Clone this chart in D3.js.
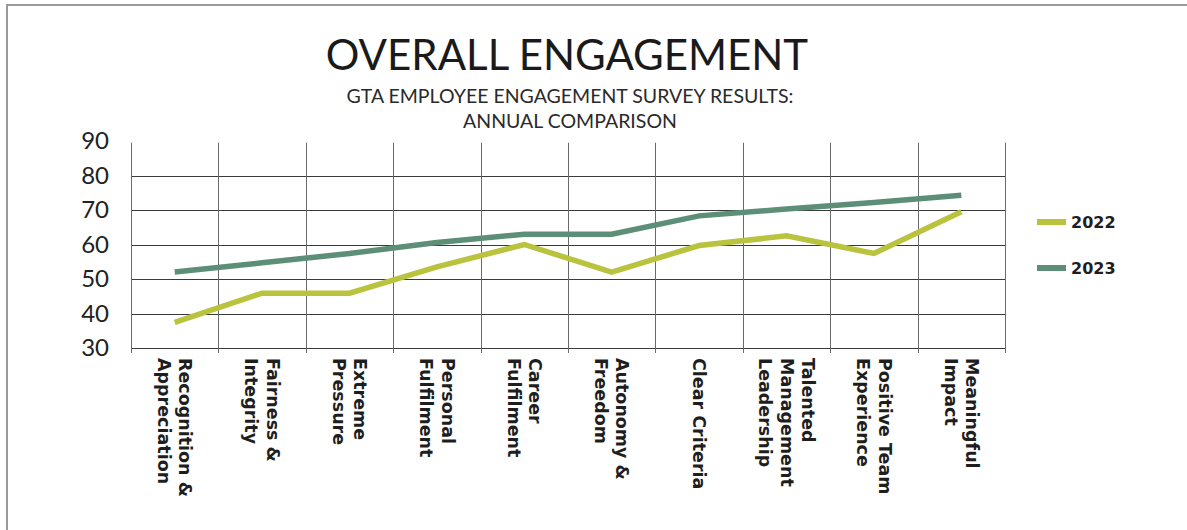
<!DOCTYPE html>
<html>
<head>
<meta charset="utf-8">
<script src="https://cdn.jsdelivr.net/npm/d3@7/dist/d3.min.js"></script>
<style>
  html, body { margin: 0; padding: 0; background: #fff; }
  svg { display: block; }
</style>
</head>
<body>
<svg id="chart" width="1187" height="530"></svg>
<script>
// Survey categories (each entry broken into the lines it is printed on)
const categories = [
  ["Recognition &", "Appreciation"],
  ["Fairness &", "Integrity"],
  ["Extreme", "Pressure"],
  ["Personal", "Fulfilment"],
  ["Career", "Fulfilment"],
  ["Autonomy &", "Freedom"],
  ["Clear Criteria"],
  ["Talented", "Management", "Leadership"],
  ["Positive Team", "Experience"],
  ["Meaningful", "Impact"]
];
const values2022 = [37.4, 45.9, 45.9, 53.5, 60, 52, 59.7, 62.5, 57.4, 69.5];
const values2023 = [52, 54.7, 57.4, 60.6, 63, 63, 68.3, 70.3, 72.2, 74.3];
const seriesNames = ["2022", "2023"];
const yTicks = [30, 40, 50, 60, 70, 80, 90];

const colors = { "2022": "#b9c33d", "2023": "#5d8f78" };
const series = [
  { name: seriesNames[0], values: values2022 },
  { name: seriesNames[1], values: values2023 }
];

const svg = d3.select("#chart");
const plot = { left: 131, right: 1005, top: 141, bottom: 348 };

// Frame around the graphic
svg.append("path")
  .attr("d", "M7,530 V5 H1187")
  .attr("fill", "none")
  .attr("stroke", "#9a9a9a")
  .attr("stroke-width", 2);

// Titles
svg.append("text")
  .attr("x", 567).attr("y", 70)
  .attr("text-anchor", "middle")
  .attr("font-family", "Lato")
  .attr("font-weight", 400)
  .attr("font-size", 42)
  .attr("fill", "#1a1a1a")
  .text("OVERALL ENGAGEMENT");

svg.append("text")
  .attr("x", 570).attr("y", 103)
  .attr("text-anchor", "middle")
  .attr("font-family", "Lato")
  .attr("font-weight", 400)
  .attr("font-size", 19.5)
  .attr("fill", "#2a2a2a")
  .text("GTA EMPLOYEE ENGAGEMENT SURVEY RESULTS:");

svg.append("text")
  .attr("x", 570).attr("y", 128)
  .attr("text-anchor", "middle")
  .attr("font-family", "Lato")
  .attr("font-weight", 400)
  .attr("font-size", 19.5)
  .attr("fill", "#2a2a2a")
  .text("ANNUAL COMPARISON");

// Scales
const keys = categories.map(c => c.join(" "));
const x = d3.scaleBand().domain(keys).range([plot.left, plot.right]).paddingInner(0).paddingOuter(0);
const y = d3.scaleLinear().domain([30, 90]).range([plot.bottom, plot.top]);

// Horizontal gridlines (40–80) and the baseline at 30
const g = svg.append("g");
g.selectAll("line.h")
  .data(yTicks.filter(t => t < 90))
  .join("line")
  .attr("x1", plot.left).attr("x2", plot.right)
  .attr("y1", d => Math.round(y(d)) + 0.5).attr("y2", d => Math.round(y(d)) + 0.5)
  .attr("stroke", "#3a3a3a").attr("stroke-width", 1);

// Vertical gridlines at band edges, extending slightly below the baseline
const edges = keys.map(k => x(k)).concat([plot.right]);
g.selectAll("line.v")
  .data(edges)
  .join("line")
  .attr("x1", d => Math.round(d) + 0.5).attr("x2", d => Math.round(d) + 0.5)
  .attr("y1", y(89.5)).attr("y2", plot.bottom + 5)
  .attr("stroke", "#6a6a6a").attr("stroke-width", 1);

// Y axis labels
const yAxis = d3.axisLeft(y).tickValues(yTicks).tickSize(0).tickPadding(22).tickFormat(d3.format("d"));
const ya = svg.append("g").attr("transform", `translate(${plot.left},0)`).call(yAxis);
ya.select(".domain").remove();
ya.selectAll("text")
  .attr("font-family", "Lato")
  .attr("font-size", 24)
  .attr("fill", "#222");

// Rotated category labels
const lineGap = 21.5;
const labels = svg.append("g");
categories.forEach((lines, i) => {
  const cx = x(keys[i]) + x.bandwidth() / 2;
  const t = labels.append("text")
    .attr("transform", `translate(${cx},358) rotate(90)`)
    .attr("font-family", "DejaVu Sans")
    .attr("font-weight", 700)
    .attr("font-size", 17.5)
    .attr("fill", "#1e1e1e");
  const n = lines.length;
  lines.forEach((ln, j) => {
    // after a 90° rotation, increasing local y moves to the left on screen
    const off = (j - (n - 1) / 2) * lineGap;
    t.append("tspan")
      .attr("x", 0)
      .attr("y", off)
      .attr("dominant-baseline", "central")
      .text(ln);
  });
});

// Series lines
const line = d3.line()
  .x((d, i) => x(keys[i]) + x.bandwidth() / 2)
  .y(d => y(d));

svg.append("g").selectAll("path")
  .data(series)
  .join("path")
  .attr("d", d => line(d.values))
  .attr("fill", "none")
  .attr("stroke", d => colors[d.name])
  .attr("stroke-width", 5.5)
  .attr("stroke-linejoin", "miter")
  .attr("stroke-linecap", "butt");

// Legend
const legend = svg.append("g");
series.forEach((s, i) => {
  const ly = 222 + i * 46;
  legend.append("rect")
    .attr("x", 1037).attr("y", ly - 3)
    .attr("width", 29).attr("height", 6)
    .attr("fill", colors[s.name]);
  legend.append("text")
    .attr("x", 1071).attr("y", ly + 6)
    .attr("font-family", "DejaVu Sans")
    .attr("font-weight", 700)
    .attr("font-size", 16)
    .attr("fill", "#1e1e1e")
    .text(s.name);
});
</script>
</body>
</html>
